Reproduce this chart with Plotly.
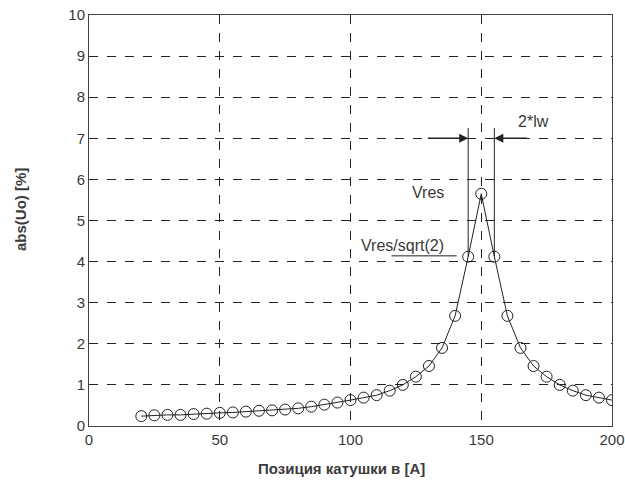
import plotly.graph_objects as go

# Data
position = [20, 25, 30, 35, 40, 45, 50, 55, 60, 65, 70, 75, 80, 85, 90, 95, 100,
            105, 110, 115, 120, 125, 130, 135, 140, 145, 150, 155, 160, 165, 170,
            175, 180, 185, 190, 195, 200]
abs_uo = [0.24, 0.26, 0.27, 0.27, 0.29, 0.30, 0.32, 0.33, 0.35, 0.37, 0.38, 0.40,
          0.43, 0.47, 0.52, 0.57, 0.63, 0.69, 0.75, 0.86, 1.00, 1.20, 1.46, 1.90,
          2.68, 4.12, 5.65, 4.12, 2.68, 1.90, 1.46, 1.20, 1.00, 0.86, 0.75, 0.69, 0.63]

x_ticks = [0, 50, 100, 150, 200]
y_ticks = [0, 1, 2, 3, 4, 5, 6, 7, 8, 9, 10]

x_title = "Позиция катушки в [A]"
y_title = "abs(Uo) [%]"

# Annotation geometry (data units)
half_power_x = [145, 155]
half_power_y = 4.12
marker_line_top = 7.25
arrow_y = 7.0
arrow_left_start = 129
arrow_right_start = 168

txt = "#3a3a3a"
font = "Liberation Sans, Arial, sans-serif"

fig = go.Figure()
fig.add_trace(go.Scatter(
    x=position, y=abs_uo, mode="lines+markers",
    line=dict(color="#222222", width=1),
    marker=dict(symbol="circle-open", size=11, color="#222222", line=dict(width=1)),
    showlegend=False,
))

shapes = []
for hx in half_power_x:
    shapes.append(dict(type="line", xref="x", yref="y", x0=hx, x1=hx,
                       y0=half_power_y, y1=marker_line_top,
                       line=dict(color="#222222", width=1)))
shapes.append(dict(type="line", xref="x", yref="y", x0=115.7, x1=140.6,
                   y0=4.14, y1=4.14, line=dict(color="#222222", width=1)))

ann_font = dict(size=16, color=txt, family=font)
annotations = [
    dict(x=half_power_x[0], y=arrow_y, ax=arrow_left_start, ay=arrow_y,
         xref="x", yref="y", axref="x", ayref="y", showarrow=True,
         arrowhead=2, arrowsize=1.2, arrowwidth=1.5, arrowcolor="#222222", text=""),
    dict(x=half_power_x[1], y=arrow_y, ax=arrow_right_start, ay=arrow_y,
         xref="x", yref="y", axref="x", ayref="y", showarrow=True,
         arrowhead=2, arrowsize=1.2, arrowwidth=1.5, arrowcolor="#222222", text=""),
    dict(x=170, y=7.42, xref="x", yref="y", text="2*lw", showarrow=False, font=ann_font),
    dict(x=129.6, y=5.68, xref="x", yref="y", text="Vres", showarrow=False, font=ann_font),
    dict(x=120, y=4.40, xref="x", yref="y", text="Vres/sqrt(2)", showarrow=False, font=ann_font),
    # axis titles
    dict(x=0.482, y=0, xref="paper", yref="paper", yshift=-42, text="<b>%s</b>" % x_title,
         showarrow=False, xanchor="center", yanchor="middle",
         font=dict(size=15, color=txt, family=font)),
    dict(x=0, y=0.5255, xref="paper", yref="paper", xshift=-69, text="<b>%s</b>" % y_title,
         showarrow=False, xanchor="center", yanchor="middle", textangle=-90,
         font=dict(size=15, color=txt, family=font)),
]

axis_common = dict(
    showline=True, linecolor="#444444", linewidth=1, mirror=True,
    showgrid=True, gridcolor="#222222", griddash="dash", gridwidth=1,
    zeroline=False, ticks="", automargin=False,
    tickfont=dict(size=15, color=txt, family=font),
)

fig.update_layout(
    width=625, height=488,
    margin=dict(l=89, r=13, t=15, b=62),
    paper_bgcolor="white", plot_bgcolor="white",
    xaxis=dict(range=[0, 200], tickvals=x_ticks, **axis_common),
    yaxis=dict(range=[0, 10], tickvals=y_ticks, **axis_common),
    shapes=shapes, annotations=annotations,
)

fig.write_html("out.html", config={"displayModeBar": False},
               post_script="document.body.style.margin='0';document.body.style.overflow='hidden';")
